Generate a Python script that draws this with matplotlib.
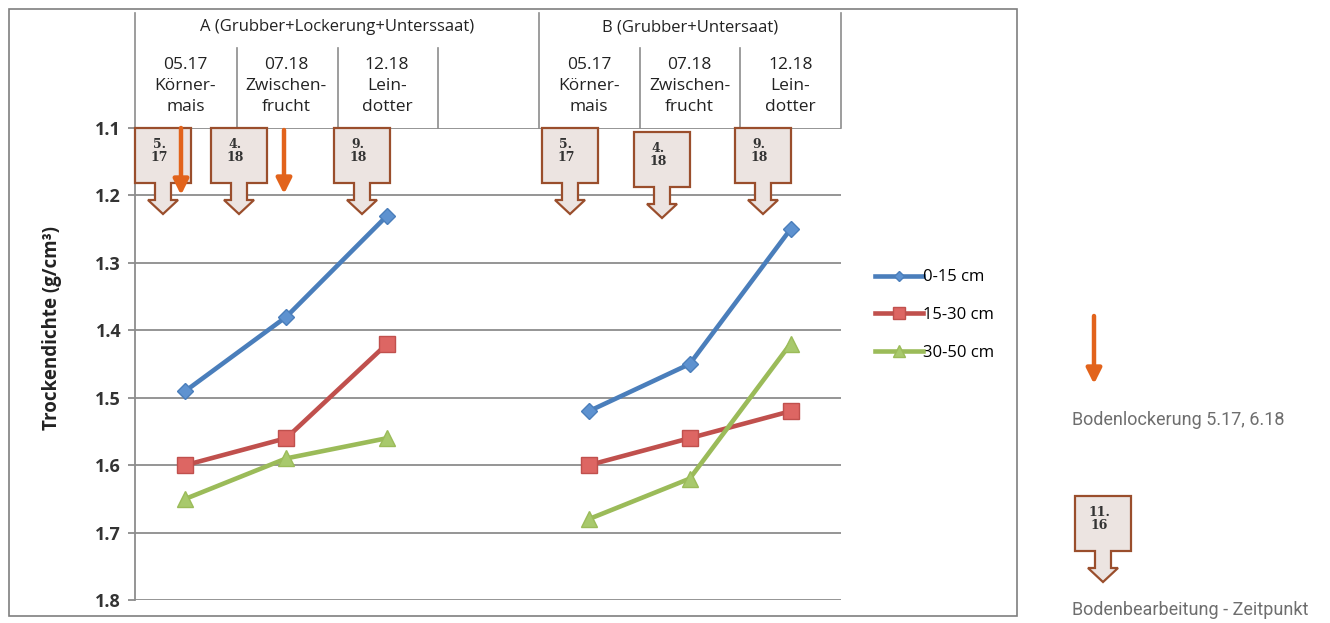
import numpy as np
import matplotlib
matplotlib.use('Agg')
import matplotlib.pyplot as plt
from matplotlib.patches import Polygon, Rectangle

plt.rcParams['font.family'] = ['Open Sans', 'DejaVu Sans']

# data
depths = ['0-15 cm', '15-30 cm', '30-50 cm']
dates = ['05.17', '07.18', '12.18']
crops = ['Körner-\nmais', 'Zwischen-\nfrucht', 'Lein-\ndotter']
groups = ['A (Grubber+Lockerung+Unterssaat)', 'B (Grubber+Untersaat)']
a_0_15 = [1.49, 1.38, 1.23]
a_15_30 = [1.60, 1.56, 1.42]
a_30_50 = [1.65, 1.59, 1.56]
b_0_15 = [1.52, 1.45, 1.25]
b_15_30 = [1.60, 1.56, 1.52]
b_30_50 = [1.68, 1.62, 1.42]
yticks = [1.1, 1.2, 1.3, 1.4, 1.5, 1.6, 1.7, 1.8]
work_labels_a = ['5.\n17', '4.\n18', '9.\n18']
work_labels_b = ['5.\n17', '4.\n18', '9.\n18']

colors = ['#4A7EBB', '#C0504D', '#9BBB59']
faces = ['#5E92D0', '#DD6663', '#A8C96C']
markers = ['D', 's', '^']
msizes = [8, 12, 12]

W, H = 1330, 623
fig = plt.figure(figsize=(W / 100, H / 100), dpi=100)
# plot area in pixels: x 135..841, y 128..600
ax = fig.add_axes([135 / W, (H - 600) / H, 706 / W, 472 / H])
ax.set_xlim(-0.5, 6.5)
ax.set_ylim(1.8, 1.1)


def px(x, y):
    # pixel position of the picture -> data coordinates of ax
    return (x - 135) / 706 * 7 - 0.5, 1.1 + (y - 128) / 472 * 0.7


xa = np.arange(3)
xb = np.arange(4, 7)
series = [(a_0_15, b_0_15), (a_15_30, b_15_30), (a_30_50, b_30_50)]
for i, (va, vb) in enumerate(series):
    kw = dict(color=colors[i], lw=3.3, marker=markers[i], ms=msizes[i],
              mfc=faces[i], mec=colors[i], mew=1, zorder=4)
    ax.plot(xa, va, label=depths[i], **kw)
    ax.plot(xb, vb, **kw)

ax.set_yticks(yticks)
ax.set_yticklabels([f'{v:.1f}' for v in yticks], fontsize=13, fontweight='bold', color='#333333')
ax.set_xticks([])
ax.grid(axis='y', color='#8C8C8C', lw=1.3)
ax.tick_params(axis='y', length=5, color='#8C8C8C', width=1.3, pad=5)
for s in ['top', 'right', 'bottom']:
    ax.spines[s].set_visible(False)
ax.spines['left'].set_color('#8C8C8C')
ax.spines['left'].set_linewidth(1.3)
ax.set_axisbelow(True)

fig.text(52 / W, 1 - 328 / H, 'Trockendichte (g/cm³)', rotation=90, ha='center', va='center',
         fontsize=13.5, fontweight='bold', color='#222222')

# header table
line_kw = dict(color='#8C8C8C', lw=1.2, clip_on=False)
for xp in [135, 539, 841]:
    x0, y0 = px(xp, 13)
    _, y1 = px(xp, 128)
    ax.plot([x0, x0], [y0, y1], **line_kw)
for xp in [237, 338, 438, 640, 740]:
    x0, y0 = px(xp, 48)
    _, y1 = px(xp, 128)
    ax.plot([x0, x0], [y0, y1], **line_kw)

_, ytop = px(0, 27)
ax.text(1.5, ytop, groups[0], ha='center', va='center', fontsize=12, color='#222222')
ax.text(5.0, ytop, groups[1], ha='center', va='center', fontsize=12, color='#222222')
_, ycell = px(0, 86)
for xs in [xa, xb]:
    for k, xc in enumerate(xs):
        ax.text(xc, ycell, dates[k] + '\n' + crops[k], ha='center', va='center',
                fontsize=12.5, color='#222222', linespacing=1.45)


def callout(xc, ytop_px, label):
    cx, top = px(xc, ytop_px)
    sx = 7 / 706
    sy = 0.7 / 472
    bw, bh = 28 * sx, 55 * sy
    sw, hw = 8 * sx, 15 * sx
    st, hd = 17 * sy, 14 * sy
    pts = [(cx - bw, top), (cx + bw, top), (cx + bw, top + bh), (cx + sw, top + bh),
           (cx + sw, top + bh + st), (cx + hw, top + bh + st), (cx, top + bh + st + hd),
           (cx - hw, top + bh + st), (cx - sw, top + bh + st), (cx - sw, top + bh),
           (cx - bw, top + bh)]
    ax.add_patch(Polygon(pts, closed=True, fc='#ECE4E1', ec='#9A4E2C', lw=1.6,
                         clip_on=False, zorder=5))
    ax.text(cx - 4 * sx, top + 23 * sy, label, ha='center', va='center', fontsize=9,
            fontweight='bold', family='DejaVu Serif', color='#333333', linespacing=1.05,
            zorder=6, clip_on=False)


def orange_arrow(x, y0, y1):
    p0 = px(x, y0)
    p1 = px(x, y1)
    ax.annotate('', xy=p1, xytext=p0, annotation_clip=False, zorder=7,
                arrowprops=dict(arrowstyle='-|>,head_length=0.9,head_width=0.45',
                                color='#E2631B', lw=3.2, shrinkA=0, shrinkB=0))


for xc, lab in zip([163, 239, 362], work_labels_a):
    callout(xc, 128, lab)
for xc, yt, lab in zip([570, 662, 763], [128, 132, 128], work_labels_b):
    callout(xc, yt, lab)
orange_arrow(181, 128, 195)
orange_arrow(284, 130, 194)

# legend
ax.legend(loc='center left', bbox_to_anchor=(860 / W, 1 - 315 / H), bbox_transform=fig.transFigure,
          frameon=False, fontsize=12, handlelength=2.9, handletextpad=0.0,
          labelspacing=1.3, markerscale=0.7)

# explanation outside the chart
orange_arrow(1094, 316, 384)
tx, ty = px(1072, 420)
ax.text(tx, ty, 'Bodenlockerung 5.17, 6.18', ha='left', va='center', fontsize=13,
        color='#6E6E6E', family='Roboto', clip_on=False)
callout(1103, 496, '11.\n16')
tx, ty = px(1072, 610)
ax.text(tx, ty, 'Bodenbearbeitung - Zeitpunkt', ha='left', va='center', fontsize=13,
        color='#6E6E6E', family='Roboto', clip_on=False)

# outer chart frame
fig.add_artist(Rectangle((9 / W, (H - 616) / H), 1008 / W, 607 / H, transform=fig.transFigure,
                         fill=False, ec='#7F7F7F', lw=1.2))

fig.savefig('out.png', dpi=100)
